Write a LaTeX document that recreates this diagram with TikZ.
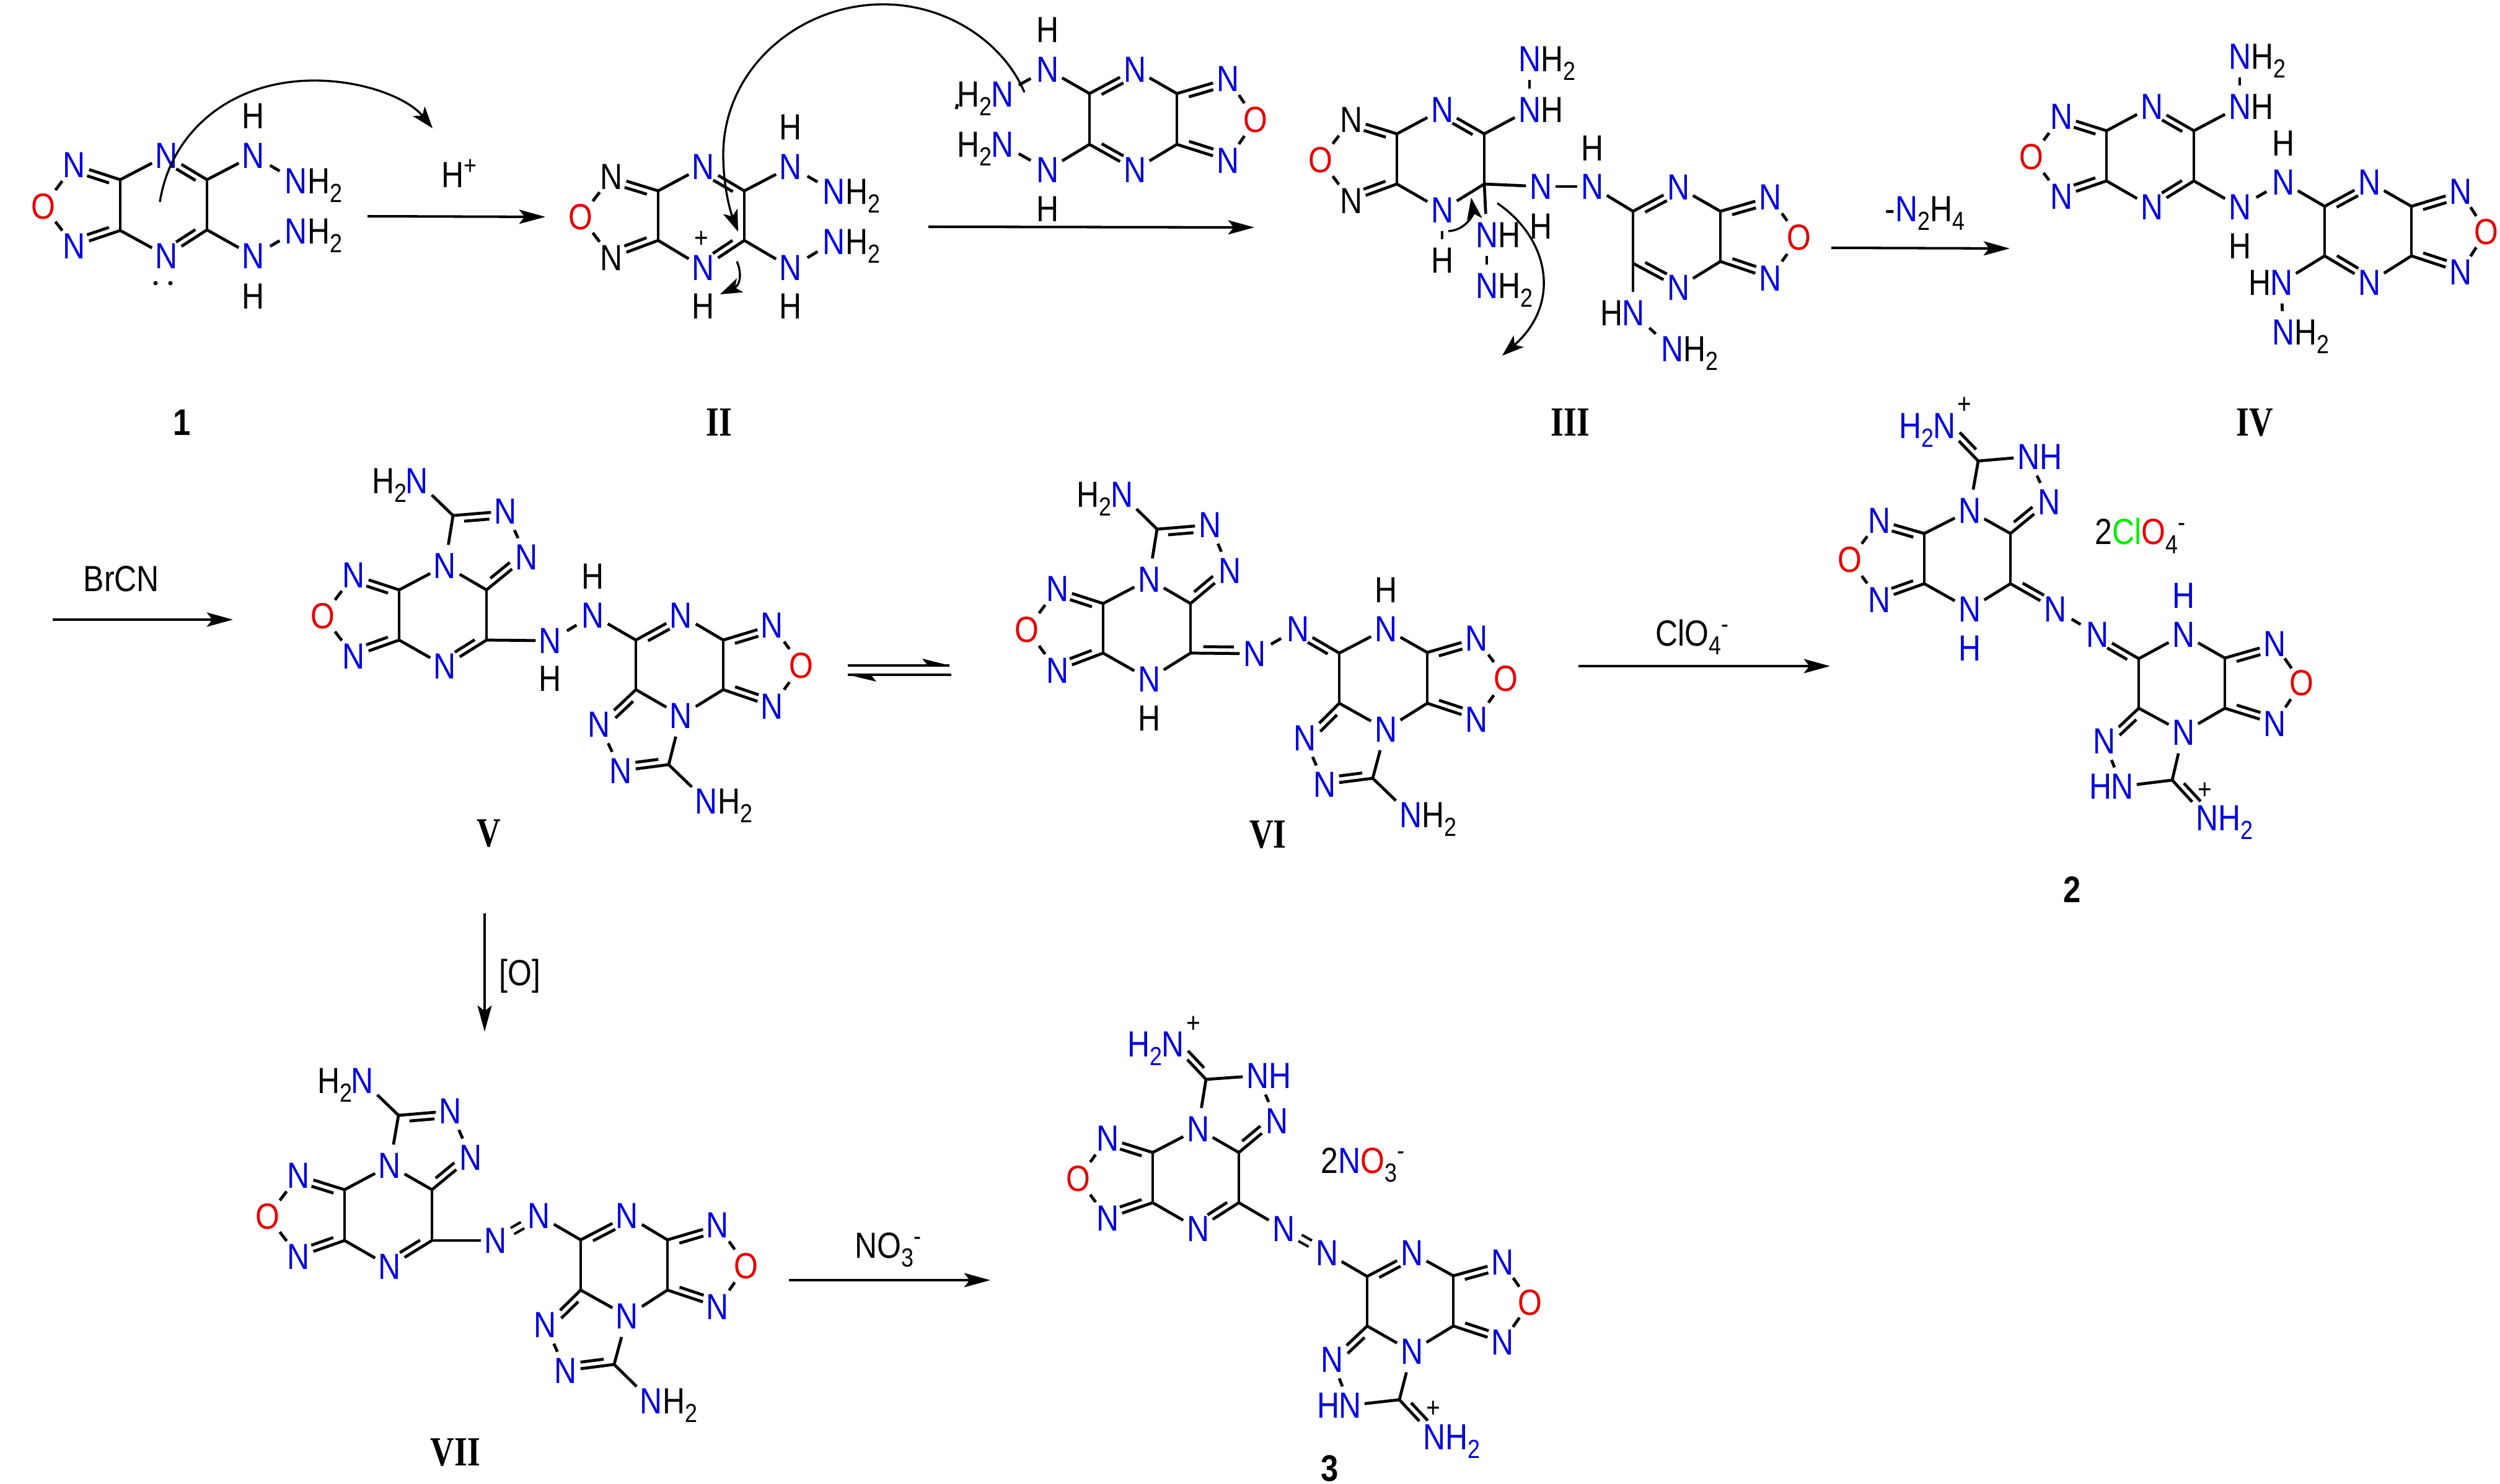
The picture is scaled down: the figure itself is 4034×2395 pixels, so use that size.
\documentclass[tikz,border=0pt]{standalone}
\usepackage{fontspec}
\setmainfont{Liberation Sans}[FakeStretch=0.85]
\newfontfamily\romf{Liberation Serif Bold}[FakeStretch=0.8]
\usetikzlibrary{calc,arrows.meta}
\definecolor{atb}{RGB}{0,0,225}
\definecolor{atr}{RGB}{230,0,0}
\definecolor{atg}{RGB}{0,240,0}
\tikzset{
  txt/.style={inner sep=0pt,font=\fontsize{16.7}{20}\selectfont},
  atom/.style={txt,minimum width=13.1pt,minimum height=18.8pt},
  bond/.style={line width=1.35pt},
  nn/.style={bond,shorten <=-1pt,shorten >=-1pt},
  no/.style={bond,shorten <=-2pt,shorten >=-2pt},
  hz/.style={bond,shorten <=1pt,shorten >=1pt},
  azo/.style={hz,double,double distance=2pt,line width=1.2pt},
  rxn/.style={line width=1.15pt,-{Stealth[length=12pt,width=6.5pt,inset=2.5pt]}},
  curly/.style={line width=.95pt,-{Stealth[length=10pt,width=7pt,inset=2.5pt]}},
  roman/.style={inner sep=0pt,font=\romf\fontsize{19}{22}\selectfont},
  cpd/.style={inner sep=0pt,font=\fontsize{17}{20}\selectfont\bfseries},
}
\newcommand\hcol{black}
\newcommand\sbt[1]{\raisebox{-4pt}{\fontsize{12}{12}\selectfont #1}}
\newcommand\spt[1]{\raisebox{6pt}{\fontsize{12}{12}\selectfont #1}}
\newcommand\aN[3]{\node[atom,text=atb] (#1) at (#2,#3) {N};}
\newcommand\aK[3]{\node[atom,text=black] (#1) at (#2,#3) {N};}
\newcommand\aO[3]{\node[atom,text=atr] (#1) at (#2,#3) {O};}
\newcommand\aH[3]{\node[atom,text=\hcol] (#1) at (#2,#3) {H};}
\newcommand\aC[3]{\coordinate (#1) at (#2,#3);}
\newcommand\tR[2]{\node[txt,text=\hcol,anchor=base west] (#1t) at ([xshift=5pt]#1.base) {#2};}
\newcommand\tL[2]{\node[txt,text=\hcol,anchor=base east] (#1t) at ([xshift=-4.5pt]#1.base) {#2};}
\newcommand\bds[1]{\foreach \p/\q in {#1}{\draw[bond] (\p)--(\q);}}
\newcommand\dbL[2]{\draw[bond] (#1)--(#2);
  \coordinate (tA) at ($(#1)!.2!(#2)$);\coordinate (tB) at ($(#1)!.68!(#2)$);
  \draw[bond] ($(tA)!3pt!90:(tB)$)--($(tB)!3pt!-90:(tA)$);}
\newcommand\dbR[2]{\draw[bond] (#1)--(#2);
  \coordinate (tA) at ($(#1)!.2!(#2)$);\coordinate (tB) at ($(#1)!.68!(#2)$);
  \draw[bond] ($(tA)!3pt!-90:(tB)$)--($(tB)!3pt!90:(tA)$);}
\newcommand\plusat[3]{\node[inner sep=0pt,font=\fontsize{13}{13}\selectfont] (#1) at (#2,#3) {+};}
\newcommand\straight[5]{\coordinate (#1s) at (#2,#3);\coordinate (#1e) at (#4,#5);\draw[rxn] (#1s)--(#1e);}
\begin{document}
\begin{tikzpicture}[x=0.01cm,y=-0.01cm]
\useasboundingbox[fill=white] (0,0) rectangle (4034,2395);

%% ---- compound 1
\aN{a1}{120}{266}\aO{aO}{70}{333}\aN{a2}{120}{397}
\aC{ac1}{194}{290}\aC{ac2}{194}{372}\aN{a3}{269}{251}\aN{a4}{269}{413}
\aC{ac3}{334}{290}\aC{ac4}{334}{371}
\aN{a5}{409}{251}\aH{aH5}{409}{187}\aN{a6}{478}{292}\tR{a6}{H\sbt{2}}
\aN{a7}{409}{413}\aH{aH7}{409}{478}\aN{a8}{478}{373}\tR{a8}{H\sbt{2}}
\draw[no] (a1)--(aO);\draw[no] (a2)--(aO);
\dbL{ac1}{a1}\dbR{ac2}{a2}\dbL{ac3}{a3}\dbR{ac4}{a4}
\bds{ac1/ac2,ac1/a3,ac2/a4,ac3/ac4,ac3/a5,ac4/a7}
\draw[hz] (a5)--(a6);\draw[hz] (a7)--(a8);
\fill (251,457) circle (3.5);\fill (275,457) circle (3.5);
\coordinate (ca1s) at (258,326);\coordinate (ca1m) at (507,130);\coordinate (ca1e) at (698,207);
\draw[curly] (ca1s) .. controls (275,215) and (370,130) .. (ca1m) .. controls (590,130) and (660,160) .. (ca1e);
\node[txt] (hplus) at (741,280) {H\spt{+}};
\straight{r1}{593}{349}{880}{350}
\node[cpd] (l1) at (294,682) {1};

%% ---- intermediate II
\aK{b1}{987}{285}\aO{bO}{937}{350}\aK{b2}{987}{416}
\aC{bc1}{1062}{308}\aC{bc2}{1062}{388}\aN{b3}{1135}{269}\aN{b4}{1135}{432}
\plusat{bp}{1132}{386}\aH{bH4}{1135}{494}
\aC{bc3}{1201}{308}\aC{bc4}{1201}{388}
\aN{b5}{1276}{269}\aH{bH5}{1276}{205}\aN{b6}{1346}{309}\tR{b6}{H\sbt{2}}
\aN{b7}{1276}{432}\aH{bH7}{1276}{494}\aN{b8}{1346}{390}\tR{b8}{H\sbt{2}}
\draw[no] (b1)--(bO);\draw[no] (b2)--(bO);
\dbL{bc1}{b1}\dbR{bc2}{b2}\dbL{bc3}{b3}\dbR{bc4}{b4}
\bds{bc1/bc2,bc1/b3,bc2/b4,bc3/bc4,bc3/b5,bc4/b7}
\draw[hz] (b5)--(b6);\draw[hz] (b7)--(b8);
\coordinate (cb1s) at (1189,422);\coordinate (cb1e) at (1162,475);
\draw[curly] (cb1s) .. controls (1197,440) and (1195,460) .. (cb1e);
\node[roman] (l2) at (1160,682) {II};

%% ---- reactant
\aH{kH1}{1690}{48}\aN{k1}{1690}{112}\aN{k2}{1617}{152}\tL{k2}{H\sbt{2}}
\aC{kc1}{1758}{151}\aC{kc2}{1758}{233}\aN{k3}{1831}{112}\aN{k4}{1831}{274}
\aC{kc3}{1899}{151}\aC{kc4}{1899}{233}
\aN{k5}{1981}{127}\aO{kO}{2026}{193}\aN{k6}{1981}{259}
\aN{k7}{1617}{233}\tL{k7}{H\sbt{2}}\aN{k8}{1690}{274}\aH{kH8}{1690}{337}
\dbR{kc1}{k3}\dbL{kc2}{k4}\dbR{kc3}{k5}\dbL{kc4}{k6}
\bds{kc1/kc2,kc3/kc4,k3/kc3,k4/kc4,kc1/k1,kc2/k8}
\draw[hz] (k1)--(k2);\draw[hz] (k8)--(k7);
\draw[no] (k5)--(kO);\draw[no] (k6)--(kO);
\coordinate (mk1) at (1545,168);\coordinate (mk2) at (1543,176);\draw[bond] (mk1)--(mk2);
\coordinate (cbs) at (1653,149);\coordinate (cbm1) at (1425,7);\coordinate (cbm2) at (1167,250);\coordinate (cbe) at (1191,374);
\draw[curly] (cbs) .. controls (1620,70) and (1530,7) .. (cbm1) .. controls (1290,7) and (1167,110) .. (cbm2) .. controls (1167,300) and (1178,340) .. (cbe);
\straight{r2}{1498}{366}{2024}{367}

%% ---- intermediate III
\aK{c1}{2180}{193}\aO{cO}{2131}{258}\aK{c2}{2180}{324}
\aC{cc1}{2254}{216}\aC{cc2}{2254}{297}\aN{c3}{2327}{177}\aN{c4}{2327}{339}
\aC{cc3}{2395}{216}\aC{cc4}{2395}{297}
\aN{c5}{2468}{177}\tR{c5}{H}\aN{c6}{2468}{95}\tR{c6}{H\sbt{2}}
\aN{c7}{2486}{301}\aH{cH7}{2486}{365}\aN{c8}{2569}{301}\aH{cH8}{2569}{239}
\aH{cH4}{2327}{420}\aN{c9}{2399}{379}\tR{c9}{H}\aN{c10}{2399}{461}\tR{c10}{H\sbt{2}}
\aC{cc5}{2635}{341}\aC{cc6}{2635}{425}\aN{c11}{2708}{302}\aN{c12}{2708}{464}
\aC{cc7}{2776}{341}\aC{cc8}{2776}{422}
\aN{c13}{2856}{318}\aO{cO2}{2903}{383}\aN{c14}{2856}{449}
\aN{c15}{2635}{505}\tL{c15}{H}\aN{c16}{2698}{563}\tR{c16}{H\sbt{2}}
\draw[no] (c1)--(cO);\draw[no] (c2)--(cO);\draw[no] (c13)--(cO2);\draw[no] (c14)--(cO2);
\dbL{cc1}{c1}\dbR{cc2}{c2}\dbL{cc3}{c3}\dbR{cc5}{c11}\dbL{cc6}{c12}\dbR{cc7}{c13}\dbL{cc8}{c14}
\bds{cc1/cc2,cc1/c3,cc2/c4,cc3/cc4,c4/cc4,cc3/c5,c5/c6,cc4/c7,c7/c8,c8/cc5,cc4/c9,c9/c10,c4/cH4,cc5/cc6,cc7/cc8,c11/cc7,c12/cc8,cc6/c15}
\draw[hz] (c15)--(c16);
\coordinate (cc1s) at (2337,373);\coordinate (cc1e) at (2374,319);
\draw[curly] (cc1s) .. controls (2365,372) and (2378,345) .. (cc1e);
\coordinate (cc2s) at (2416,328);\coordinate (cc2e) at (2424,574);
\draw[curly] (cc2s) .. controls (2500,385) and (2520,490) .. (cc2e);
\node[roman] (l3) at (2534,682) {III};
\straight{r3}{2955}{400}{3243}{401}
\node[txt] (nh4) at (3106,344) {-{\color{atb}N}\sbt{2}H\sbt{4}};

%% ---- intermediate IV
\aN{d1}{3326}{188}\aO{dO}{3278}{253}\aN{d2}{3326}{317}
\aC{dc1}{3399}{211}\aC{dc2}{3399}{292}\aN{d3}{3472}{172}\aN{d4}{3472}{334}
\aC{dc3}{3540}{211}\aC{dc4}{3540}{292}
\aN{d5}{3614}{172}\tR{d5}{H}\aN{d6}{3614}{91}\tR{d6}{H\sbt{2}}
\aH{dH7}{3684}{231}\aN{d7}{3684}{294}\aN{d8}{3614}{334}\aH{dH8}{3614}{397}
\aC{dc5}{3751}{333}\aC{dc6}{3751}{413}\aN{d9}{3823}{294}\aN{d10}{3823}{456}
\aC{dc7}{3891}{333}\aC{dc8}{3891}{413}
\aN{d11}{3970}{309}\aO{dO2}{4012}{374}\aN{d12}{3970}{439}
\aN{d13}{3681}{456}\tL{d13}{H}\aN{d14}{3684}{536}\tR{d14}{H\sbt{2}}
\draw[no] (d1)--(dO);\draw[no] (d2)--(dO);\draw[no] (d11)--(dO2);\draw[no] (d12)--(dO2);
\dbL{dc1}{d1}\dbR{dc2}{d2}\dbL{dc3}{d3}\dbR{dc4}{d4}\dbR{dc5}{d9}\dbL{dc6}{d10}\dbR{dc7}{d11}\dbL{dc8}{d12}
\bds{dc1/dc2,dc1/d3,dc2/d4,dc3/dc4,dc3/d5,d5/d6,dc4/d8,d7/dc5,dc5/dc6,d9/dc7,d10/dc8,dc7/dc8,dc6/d13,d13/d14}
\draw[hz] (d8)--(d7);
\node[roman] (l4) at (3638,682) {IV};

%% ---- intermediate V
\straight{r4}{85}{1000}{376}{1000}
\node[txt] (brcn) at (196,934) {BrCN};
\aN{e0}{673}{776}\tL{e0}{H\sbt{2}}\aC{ec0}{731}{832}\aN{e1}{816}{825}\aN{e2}{850}{899}
\aN{e3}{718}{913}\aC{ec1}{785}{952}\aC{ec2}{644}{952}
\aN{e4}{571}{928}\aO{eO}{521}{994}\aN{e5}{571}{1059}
\aC{ec3}{644}{1033}\aN{e6}{718}{1075}\aC{ec4}{785}{1033}
\aN{e7}{888}{1034}\aH{eH7}{888}{1095}\aN{e8}{957}{993}\aH{eH8}{957}{930}
\aC{ec5}{1026}{1033}\aC{ec6}{1026}{1113}\aN{e9}{1099}{993}\aN{e10}{1099}{1155}
\aC{ec7}{1167}{1033}\aC{ec8}{1167}{1113}
\aN{e11}{1246}{1009}\aO{eO2}{1293}{1074}\aN{e12}{1246}{1140}
\aN{e13}{967}{1169}\aN{e14}{1002}{1244}\aC{ec9}{1079}{1234}
\aN{e15}{1140}{1293}\tR{e15}{H\sbt{2}}
\draw[no] (e4)--(eO);\draw[no] (e5)--(eO);\draw[no] (e11)--(eO2);\draw[no] (e12)--(eO2);
\draw[nn] (e1)--(e2);\draw[nn] (e13)--(e14);
\dbR{ec0}{e1}\dbL{ec1}{e2}\dbL{ec2}{e4}\dbR{ec3}{e5}\dbR{ec4}{e6}
\dbR{ec5}{e9}\dbR{ec7}{e11}\dbL{ec8}{e12}\dbL{ec6}{e13}\dbR{ec9}{e14}
\bds{e0/ec0,ec0/e3,e3/ec1,e3/ec2,ec2/ec3,ec3/e6,ec1/ec4,ec4/e7,e8/ec5,e9/ec7,ec5/ec6,ec7/ec8,ec6/e10,e10/ec8,e10/ec9,ec9/e15}
\draw[hz] (e7)--(e8);
\node[roman] (l5) at (789,1345) {V};

%% ---- equilibrium arrows
\coordinate (q1) at (1368,1074);\coordinate (q2) at (1532,1074);
\coordinate (q3) at (1535,1089);\coordinate (q4) at (1368,1089);
\draw[line width=1.15pt] (q1)--(q2);\draw[line width=1.15pt] (q3)--(q4);
\fill (q2)--(1488,1063)--(1497,1074)--cycle;
\fill (q4)--(1414,1100)--(1405,1089)--cycle;

%% ---- intermediate VI
\aN{f0}{1810}{798}\tL{f0}{H\sbt{2}}\aC{fc0}{1867}{854}\aN{f1}{1952}{847}\aN{f2}{1984}{921}
\aN{f3}{1854}{935}\aC{fc1}{1921}{974}\aC{fc2}{1780}{974}
\aN{f4}{1706}{950}\aO{fO}{1657}{1016}\aN{f5}{1706}{1082}
\aC{fc3}{1780}{1054}\aN{f6}{1854}{1096}\aH{fH6}{1854}{1159}\aC{fc4}{1921}{1054}
\aN{f7}{2024}{1055}\aN{f8}{2094}{1015}
\aC{fc5}{2161}{1054}\aC{fc6}{2161}{1135}\aN{f9}{2236}{1015}\aH{fH9}{2236}{952}\aN{f10}{2236}{1177}
\aC{fc7}{2303}{1053}\aC{fc8}{2303}{1135}
\aN{f11}{2382}{1030}\aO{fO2}{2430}{1095}\aN{f12}{2382}{1161}
\aN{f13}{2105}{1191}\aN{f14}{2137}{1266}\aC{fc9}{2215}{1256}
\aN{f15}{2276}{1315}\tR{f15}{H\sbt{2}}
\draw[no] (f4)--(fO);\draw[no] (f5)--(fO);\draw[no] (f11)--(fO2);\draw[no] (f12)--(fO2);
\draw[nn] (f1)--(f2);\draw[nn] (f13)--(f14);
\dbR{fc0}{f1}\dbL{fc1}{f2}\dbL{fc2}{f4}\dbR{fc3}{f5}\dbL{fc4}{f7}\dbL{fc5}{f8}
\dbR{fc7}{f11}\dbL{fc8}{f12}\dbL{fc6}{f13}\dbR{fc9}{f14}
\bds{f0/fc0,fc0/f3,f3/fc1,f3/fc2,fc2/fc3,fc3/f6,f6/fc4,fc1/fc4,fc5/f9,f9/fc7,fc5/fc6,fc7/fc8,fc6/f10,f10/fc8,f10/fc9,fc9/f15}
\draw[hz] (f7)--(f8);
\node[roman] (l6) at (2046,1347) {VI};
\straight{r5}{2547}{1075}{2953}{1075}
\node[txt] (clo) at (2730,1028) {ClO\sbt{4}\spt{-}};

%% ---- compound 2
\begin{scope}
\renewcommand\hcol{atb}
\aN{g0}{3137}{687}\tL{g0}{H\sbt{2}}\plusat{gp1}{3170}{654}\aC{gc0}{3192}{744}
\aN{g1}{3273}{737}\tR{g1}{H}\aN{g2}{3306}{810}
\aN{g3}{3178}{824}\aC{gc1}{3244}{861}\aC{gc2}{3105}{861}
\aN{g4}{3032}{840}\aO{gO}{2985}{903}\aN{g5}{3032}{968}
\aC{gc3}{3105}{942}\aN{g6}{3178}{983}\aH{gH6}{3178}{1046}\aC{gc4}{3244}{942}
\aN{g7}{3316}{983}\aN{g8}{3384}{1024}
\aC{gc5}{3451}{1063}\aC{gc6}{3451}{1143}\aN{g9}{3523}{1024}\aH{gH9}{3523}{961}\aN{g10}{3523}{1182}
\aC{gc7}{3590}{1062}\aC{gc8}{3590}{1143}
\aN{g11}{3670}{1039}\aO{gO2}{3714}{1102}\aN{g12}{3670}{1168}
\aN{g13}{3395}{1196}\aN{g14}{3424}{1269}\tL{g14}{H}\aC{gc9}{3505}{1259}
\aN{g15}{3561}{1320}\tR{g15}{H\sbt{2}}\plusat{gp2}{3558}{1276}
\end{scope}
\draw[no] (g4)--(gO);\draw[no] (g5)--(gO);\draw[no] (g11)--(gO2);\draw[no] (g12)--(gO2);
\draw[nn] (g1)--(g2);\draw[nn] (g13)--(g14);
\dbR{gc0}{g0}\dbL{gc1}{g2}\dbL{gc2}{g4}\dbR{gc3}{g5}\dbL{gc4}{g7}\dbL{gc5}{g8}
\dbR{gc7}{g11}\dbL{gc8}{g12}\dbL{gc6}{g13}\dbL{gc9}{g15}
\bds{gc0/g1,gc0/g3,g3/gc1,g3/gc2,gc2/gc3,gc3/g6,g6/gc4,gc1/gc4,gc5/g9,g9/gc7,gc5/gc6,gc7/gc8,gc6/g10,g10/gc8,g10/gc9,g14/gc9}
\draw[hz] (g7)--(g8);
\node[txt,anchor=base west] (gsalt) at (3380,879) {2{\color{atg}Cl}{\color{atr}O}\sbt{4}\spt{-}};
\node[cpd] (l7) at (3344,1436) {2};

%% ---- [O] step
\straight{r6}{782}{1474}{782}{1665}
\node[txt] (ox) at (839,1575) {[O]};

%% ---- intermediate VII
\aN{h0}{585}{1744}\tL{h0}{H\sbt{2}}\aC{hc0}{643}{1800}\aN{h1}{727}{1793}\aN{h2}{760}{1868}
\aN{h3}{629}{1881}\aC{hc1}{697}{1920}\aC{hc2}{556}{1920}
\aN{h4}{482}{1897}\aO{hO}{432}{1963}\aN{h5}{482}{2028}
\aC{hc3}{556}{2002}\aN{h6}{629}{2044}\aC{hc4}{697}{2002}
\aN{h7}{800}{2002}\aN{h8}{870}{1962}
\aC{hc5}{937}{2001}\aC{hc6}{937}{2082}\aN{h9}{1012}{1962}\aN{h10}{1012}{2124}
\aC{hc7}{1077}{2001}\aC{hc8}{1077}{2082}
\aN{h11}{1158}{1977}\aO{hO2}{1204}{2043}\aN{h12}{1158}{2109}
\aN{h13}{880}{2138}\aN{h14}{913}{2212}\aC{hc9}{991}{2202}
\aN{h15}{1051}{2261}\tR{h15}{H\sbt{2}}
\draw[no] (h4)--(hO);\draw[no] (h5)--(hO);\draw[no] (h11)--(hO2);\draw[no] (h12)--(hO2);
\draw[nn] (h1)--(h2);\draw[nn] (h13)--(h14);
\dbR{hc0}{h1}\dbL{hc1}{h2}\dbL{hc2}{h4}\dbR{hc3}{h5}\dbR{hc4}{h6}\dbR{hc5}{h9}
\dbR{hc7}{h11}\dbL{hc8}{h12}\dbL{hc6}{h13}\dbR{hc9}{h14}
\bds{h0/hc0,hc0/h3,h3/hc1,h3/hc2,hc2/hc3,hc3/h6,hc1/hc4,hc4/h7,h8/hc5,h9/hc7,hc5/hc6,hc7/hc8,hc6/h10,h10/hc8,h10/hc9,hc9/h15}
\draw[azo] (h7)--(h8);
\node[roman] (l8) at (735,2344) {VII};
\straight{r7}{1273}{2066}{1598}{2066}
\node[txt] (nit) at (1433,2017) {NO\sbt{3}\spt{-}};

%% ---- compound 3
\begin{scope}
\renewcommand\hcol{atb}
\aN{j0}{1892}{1685}\tL{j0}{H\sbt{2}}\plusat{jp1}{1926}{1653}\aC{jc0}{1946}{1742}
\aN{j1}{2029}{1736}\tR{j1}{H}\aN{j2}{2060}{1809}
\aN{j3}{1933}{1822}\aC{jc1}{1999}{1860}\aC{jc2}{1860}{1860}
\aN{j4}{1787}{1837}\aO{jO}{1740}{1902}\aN{j5}{1787}{1966}
\aC{jc3}{1860}{1941}\aN{j6}{1933}{1983}\aC{jc4}{1999}{1941}
\aN{j7}{2071}{1983}\aN{j8}{2141}{2022}
\aC{jc5}{2206}{2060}\aC{jc6}{2206}{2140}\aN{j9}{2278}{2022}\aN{j10}{2278}{2181}
\aC{jc7}{2345}{2059}\aC{jc8}{2345}{2140}
\aN{j11}{2424}{2037}\aO{jO2}{2469}{2102}\aN{j12}{2424}{2166}
\aN{j13}{2149}{2194}\aN{j14}{2178}{2268}\tL{j14}{H}\aC{jc9}{2258}{2259}
\aN{j15}{2314}{2319}\tR{j15}{H\sbt{2}}\plusat{jp2}{2313}{2274}
\end{scope}
\draw[no] (j4)--(jO);\draw[no] (j5)--(jO);\draw[no] (j11)--(jO2);\draw[no] (j12)--(jO2);
\draw[nn] (j1)--(j2);\draw[nn] (j13)--(j14);
\dbR{jc0}{j0}\dbL{jc1}{j2}\dbL{jc2}{j4}\dbR{jc3}{j5}\dbR{jc4}{j6}\dbR{jc5}{j9}
\dbR{jc7}{j11}\dbL{jc8}{j12}\dbL{jc6}{j13}\dbL{jc9}{j15}
\bds{jc0/j1,jc0/j3,j3/jc1,j3/jc2,jc2/jc3,jc3/j6,jc1/jc4,jc4/j7,j8/jc5,j9/jc7,jc5/jc6,jc7/jc8,jc6/j10,j10/jc8,j10/jc9,j14/jc9}
\draw[azo] (j7)--(j8);
\node[txt,anchor=base west] (jsalt) at (2131,1893) {2{\color{atb}N}{\color{atr}O}\sbt{3}\spt{-}};
\node[cpd] (l9) at (2146,2370) {3};
\end{tikzpicture}
\end{document}
